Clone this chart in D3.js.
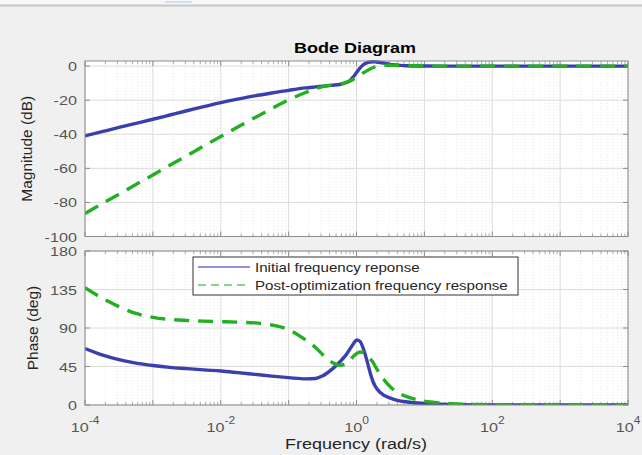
<!DOCTYPE html>
<html><head><meta charset="utf-8">
<script src="https://cdn.jsdelivr.net/npm/d3@7"></script>
<style>
html,body{margin:0;padding:0;background:#f0f0f0;}
svg{display:block;}
text{font-family:"Liberation Sans",Arial,Helvetica,sans-serif;}
</style></head>
<body>
<svg id="chart" width="642" height="455"></svg>
<script>
// ---- data ----
const logFreq = [-4,-3.75,-3.5,-3.25,-3,-2.75,-2.5,-2.25,-2,-1.75,-1.5,-1.25,-1,-0.75,-0.6,-0.5,-0.35,-0.25,-0.15,-0.1,-0.05,0,0.05,0.1,0.15,0.2,0.25,0.3,0.4,0.5,0.6,0.75,1,1.25,1.5,2,2.5,3,4];
const magInitial = [-41,-38.5,-36,-33.6,-31.2,-28.7,-26.2,-23.8,-21.4,-19.4,-17.5,-15.8,-14.2,-12.8,-12.2,-11.8,-11.2,-10.8,-9.6,-8.6,-6.5,-3.8,-1.2,0.8,1.9,2.4,2.6,2.4,1.8,1.0,0.6,0.2,0.05,0,0,0,0,0,0];
const magPost = [-86.5,-80.8,-75.2,-69.5,-63.9,-58.2,-52.6,-46.9,-41.3,-35.8,-30.3,-25,-19.8,-15.5,-13.2,-12,-11.1,-10.6,-9.6,-8.8,-7.8,-6.6,-5.3,-4,-2.8,-1.7,-0.8,-0.2,0.4,0.5,0.4,0.2,0.05,0,0,0,0,0,0];
const phaseInitial = [66,58.5,53,49,46.2,44,42.5,41,39.7,37.8,35.8,33.8,32,30.5,31,34,42.5,50,59,65,71,76,74.5,66,53,38,26,19,11.5,8,5.5,3.5,1.8,0.8,0.4,0.1,0,0,0];
const phasePost = [137,125,115,107,102.5,100,98.8,98,97.4,96.8,96,93.5,88,76,67,59,49.5,46.5,48.5,52,56.5,60,62,61.5,58,54,49,42,30,21,15,9.5,4.5,2.3,1.2,0.3,0.1,0,0];
const magTicks = [0,-20,-40,-60,-80,-100];
const phaseTicks = [0,45,90,135,180];
const freqTickExps = [-4,-2,0,2,4];
const seriesNames = ["Initial frequency reponse","Post-optimization frequency response"];

// ---- layout ----
const SX = 1.2; // horizontal text stretch of the reference
const L = 85, R = 628;
const top1 = 61, bot1 = 236.5, top2 = 251, bot2 = 405;
const blue = "#3a3fae", green = "#22b022";
const svg = d3.select("#chart");

// top window strip
svg.append("rect").attr("x",0).attr("y",0).attr("width",642).attr("height",5).attr("fill","#f7f7f7");
svg.append("line").attr("x1",0).attr("x2",642).attr("y1",5.5).attr("y2",5.5).attr("stroke","#c6c6c6").attr("stroke-width",2);
svg.append("line").attr("x1",165).attr("x2",192).attr("y1",2).attr("y2",2).attr("stroke","#a8c8e8").attr("stroke-width",1);

const x = d3.scaleLog().domain([1e-4,1e4]).range([L,R]);
const yMag = d3.scaleLinear().domain([-100,3]).range([bot1,top1]);
const yPh = d3.scaleLinear().domain([0,180]).range([bot2,top2]);

function stext(g, str, px, py, opts){
  const t = g.append("text")
    .attr("transform",`translate(${px},${py}) scale(${opts.sx||SX},1)`)
    .attr("text-anchor",opts.anchor||"start")
    .attr("font-size",opts.size||13)
    .attr("font-weight",opts.weight||"normal")
    .attr("fill",opts.fill||"#262626")
    .text(str);
  return t;
}

const minorFreqs = [];
for(let d=-4; d<4; d++) for(let k=2;k<=9;k++) minorFreqs.push(k*Math.pow(10,d));
const majorFreqs = freqTickExps.concat([-3,-1,1,3]).map(e=>Math.pow(10,e));

function panel(y, ticks, top, bot, id, s1, s2){
  const g = svg.append("g");
  g.append("rect").attr("x",L).attr("y",top).attr("width",R-L).attr("height",bot-top).attr("fill","#fff");
  // minor grid
  g.selectAll(null).data(minorFreqs).enter().append("line")
    .attr("x1",d=>x(d)).attr("x2",d=>x(d)).attr("y1",top).attr("y2",bot)
    .attr("stroke","#e2e2e2").attr("stroke-width",0.8).attr("stroke-dasharray","1,2");
  // major grid
  g.selectAll(null).data(majorFreqs).enter().append("line")
    .attr("x1",d=>x(d)).attr("x2",d=>x(d)).attr("y1",top).attr("y2",bot)
    .attr("stroke","#dcdcdc").attr("stroke-width",1);
  g.selectAll(null).data(ticks).enter().append("line")
    .attr("x1",L).attr("x2",R).attr("y1",d=>y(d)).attr("y2",d=>y(d))
    .attr("stroke","#dcdcdc").attr("stroke-width",1);
  // tick marks
  g.selectAll(null).data(majorFreqs).enter().append("path")
    .attr("d",d=>`M${x(d)},${top}v5M${x(d)},${bot}v-5`).attr("stroke","#777").attr("stroke-width",0.8);
  g.selectAll(null).data(minorFreqs).enter().append("path")
    .attr("d",d=>`M${x(d)},${top}v3M${x(d)},${bot}v-3`).attr("stroke","#888").attr("stroke-width",0.7);
  g.selectAll(null).data(ticks).enter().append("path")
    .attr("d",d=>`M${L},${y(d)}h5M${R},${y(d)}h-5`).attr("stroke","#777").attr("stroke-width",0.8);
  // clip
  svg.append("clipPath").attr("id",id).append("rect").attr("x",L).attr("y",top-1).attr("width",R-L).attr("height",bot-top+1);
  const pts = (vals)=>logFreq.map((e,i)=>[Math.pow(10,e), vals[i]]);
  const line = d3.line().x(d=>x(d[0])).y(d=>y(d[1])).curve(d3.curveMonotoneX);
  g.append("path").attr("clip-path",`url(#${id})`).attr("d",line(pts(s1)))
    .attr("fill","none").attr("stroke",blue).attr("stroke-width",3.4).attr("stroke-linejoin","round");
  g.append("path").attr("clip-path",`url(#${id})`).attr("d",line(pts(s2)))
    .attr("fill","none").attr("stroke",green).attr("stroke-width",3.4).attr("stroke-dasharray","15,9");
  // border
  g.append("rect").attr("x",L).attr("y",top).attr("width",R-L).attr("height",bot-top)
    .attr("fill","none").attr("stroke","#8c8c8c").attr("stroke-width",1);
  // y tick labels
  ticks.forEach(t=>{
    stext(g, String(t), 77, y(t)+5, {anchor:"end", size:13.5, fill:"#555"});
  });
  return g;
}

panel(yMag, magTicks, top1, bot1, "clipMag", magInitial, magPost);
panel(yPh, phaseTicks, top2, bot2, "clipPh", phaseInitial, phasePost);

// x tick labels (10^n)
freqTickExps.forEach(e=>{
  const px = x(Math.pow(10,e));
  const g = svg.append("g").attr("transform",`translate(${px},432) scale(${SX},1)`);
  const t = g.append("text").attr("text-anchor","middle").attr("fill","#555").attr("font-size",13.5);
  t.append("tspan").text("10");
  t.append("tspan").attr("font-size",10).attr("dy",-8).text(String(e));
});

// titles & labels
stext(svg, "Bode Diagram", 355, 53, {anchor:"middle", size:15, weight:"bold", fill:"#000"});
stext(svg, "Frequency  (rad/s)", 356, 449, {anchor:"middle", size:15, fill:"#262626"});
svg.append("text").attr("transform",`translate(32,${(top1+bot1)/2}) rotate(-90)`)
  .attr("text-anchor","middle").attr("font-size",15.5).attr("fill","#262626").text("Magnitude (dB)");
svg.append("text").attr("transform",`translate(38,${(top2+bot2)/2}) rotate(-90)`)
  .attr("text-anchor","middle").attr("font-size",15.5).attr("fill","#262626").text("Phase (deg)");

// legend
const lg = svg.append("g");
lg.append("rect").attr("x",193).attr("y",257).attr("width",325).attr("height",38)
  .attr("fill","#fff").attr("stroke","#333").attr("stroke-width",1);
lg.append("line").attr("x1",198).attr("x2",250).attr("y1",267).attr("y2",267).attr("stroke","#6f72d0").attr("stroke-width",1.5);
lg.append("line").attr("x1",198).attr("x2",250).attr("y1",285).attr("y2",285).attr("stroke","#5ccc5c").attr("stroke-width",1.5).attr("stroke-dasharray","8,5");
stext(lg, seriesNames[0], 255, 272, {size:12.6, fill:"#262626"});
stext(lg, seriesNames[1], 255, 290, {size:12.6, fill:"#262626"});
</script>
</body></html>
